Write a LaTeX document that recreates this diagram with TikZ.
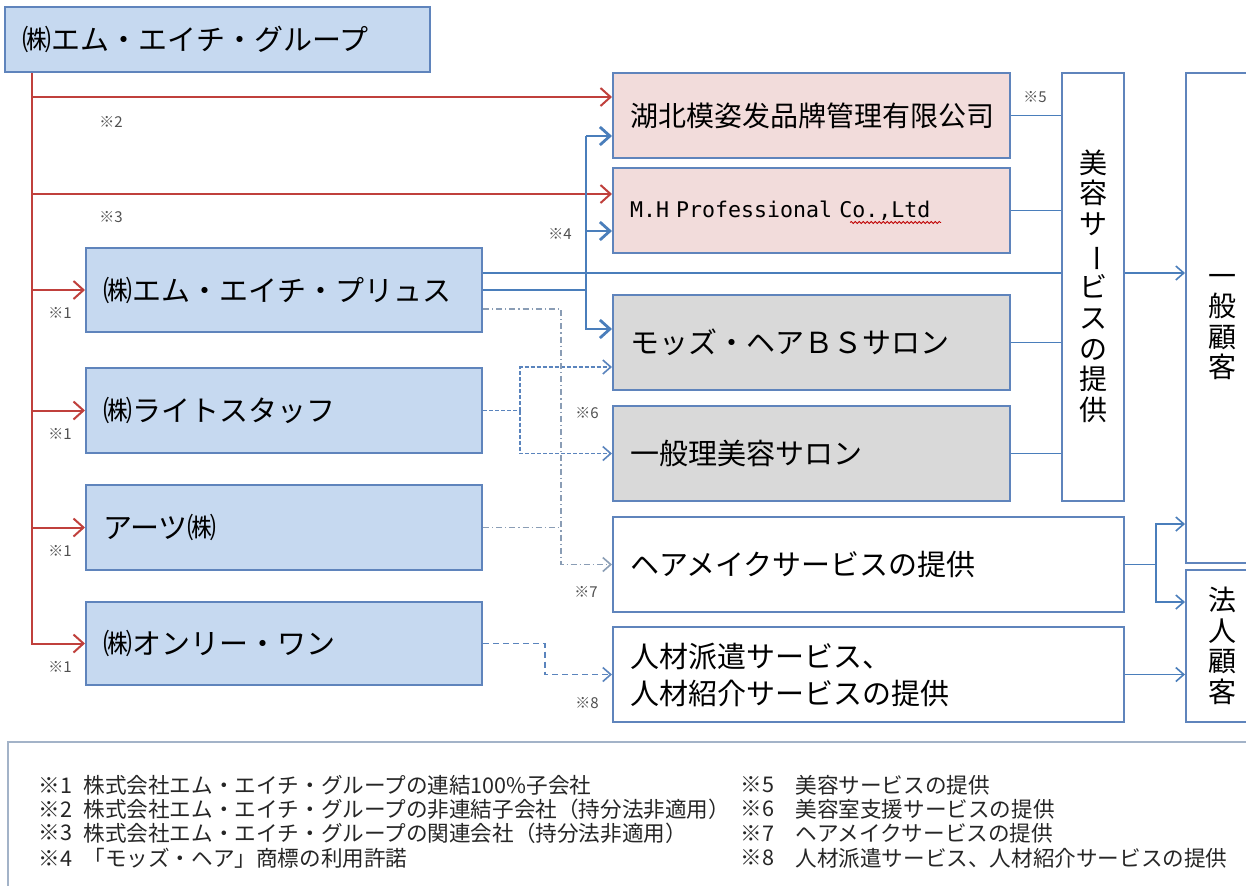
\documentclass[tikz,border=0pt]{standalone}
\usepackage{fontspec}
\setmainfont{Noto Sans CJK JP}
\newfontfamily\cnfont{Noto Sans CJK SC}
\newfontfamily\mhmono{DejaVu Sans Mono}
\usetikzlibrary{arrows.meta,calc,decorations.pathmorphing}
\definecolor{bordc}{HTML}{5F84BC}
\definecolor{bluef}{HTML}{C6D9F0}
\definecolor{pinkf}{HTML}{F2DCDB}
\definecolor{grayf}{HTML}{D9D9D9}
\definecolor{redc}{HTML}{C0403C}
\definecolor{bluel}{HTML}{4A7EBB}
\definecolor{dashc}{HTML}{5A84BD}
\definecolor{ddc}{HTML}{8A9DB5}
\definecolor{notec}{HTML}{505050}
\definecolor{legc}{HTML}{A3B3C8}
\newcommand\fmain{\fontsize{14.5pt}{18.5pt}\selectfont}
\newcommand\fvert{\fontsize{14pt}{15.3pt}\selectfont}
\newcommand\fnote{\fontsize{7.5pt}{9pt}\selectfont}
\newcommand\fleg{\fontsize{10.8pt}{12pt}\selectfont}
\begin{document}
\begin{tikzpicture}[x=0.5pt,y=-0.5pt,
  box/.style={draw=bordc, line width=1pt, inner xsep=8.5pt, inner ysep=0pt, align=left, font=\fmain, text=black},
  bluebox/.style={box, fill=bluef},
  pinkbox/.style={box, fill=pinkf},
  graybox/.style={box, fill=grayf},
  whitebox/.style={box, fill=white},
  vbox/.style={draw=bordc, line width=1pt, fill=white, inner sep=0pt},
  vtext/.style={font=\fvert, align=center, inner sep=0pt},
  note/.style={font=\fnote, text=notec, inner sep=0pt},
  legtxt/.style={font=\fleg, anchor=west, inner sep=0pt, text=black!85},
  redl/.style={draw=redc, line width=1pt},
  redarr/.style={redl, -{Straight Barb[length=5pt,width=9pt]}},
  bthick/.style={draw=bluel, line width=1.4pt},
  barr/.style={bthick, -{Straight Barb[length=5pt,width=9pt]}},
  bline/.style={draw=bluel, line width=0.8pt},
  tarr/.style={bline, -{Straight Barb[length=4pt,width=7pt]}},
  dsh/.style={draw=dashc, line width=0.8pt, dash pattern=on 2pt off 1pt},
  dsharr/.style={dsh, -{Straight Barb[length=4pt,width=7pt]}},
  ldsh/.style={draw=dashc, line width=0.8pt, dash pattern=on 3pt off 2pt},
  ldsharr/.style={ldsh, -{Straight Barb[length=4pt,width=7pt]}},
  dd/.style={draw=ddc, line width=0.8pt, dash pattern=on 3pt off 1.5pt on 0.6pt off 1.5pt},
  ddarr/.style={dd, -{Straight Barb[length=4pt,width=7pt]}}
]
\useasboundingbox (0,0) rectangle (1246,885);
\fill[white] (0,0) rectangle (1246,885);
\clip (0,0) rectangle (1246,885);

% boxes
\node[bluebox, text width=195.5pt, minimum width=212.5pt, minimum height=32.5pt] (grp) at (217.5,39.5) {㈱エム・エイチ・グループ};
\node[bluebox, text width=181pt, minimum width=198pt, minimum height=42pt] (plus) at (284,290) {㈱エム・エイチ・プリュス};
\node[bluebox, text width=181pt, minimum width=198pt, minimum height=42.5pt] (light) at (284,410.5) {㈱ライトスタッフ};
\node[bluebox, text width=181pt, minimum width=198pt, minimum height=42.5pt] (arts) at (284,527.5) {アーツ㈱};
\node[bluebox, text width=181pt, minimum width=198pt, minimum height=41.5pt] (only) at (284,643.5) {㈱オンリー・ワン};

\node[pinkbox, text width=181.5pt, minimum width=198.5pt, minimum height=42.5pt, font=\fontsize{14pt}{17pt}\cnfont] (hubei) at (811.5,115.5) {湖北模姿发品牌管理有限公司};
\node[pinkbox, text width=181.5pt, minimum width=198.5pt, minimum height=42.5pt, font=\fontsize{10.8pt}{13pt}\mhmono] (mh) at (811.5,210.5) {M.H Professional Co.,Ltd};
\node[graybox, text width=181.5pt, minimum width=198.5pt, minimum height=47.5pt] (mods) at (811.5,342.5) {モッズ・ヘアＢＳサロン};
\node[graybox, text width=181.5pt, minimum width=198.5pt, minimum height=47.5pt] (ippan) at (811.5,453.5) {一般理美容サロン};
\node[whitebox, text width=238.5pt, minimum width=255.5pt, minimum height=47.5pt] (hair) at (868.5,564.5) {ヘアメイクサービスの提供};
\node[whitebox, text width=238.5pt, minimum width=255.5pt, minimum height=47.5pt] (jinzai) at (868.5,674.5) {人材派遣サービス、\\人材紹介サービスの提供};

\node[vbox, minimum width=31pt, minimum height=214pt] (biyo) at (1093,287) {};
\node[vtext] (biyotxt) at (1093,286) {美\\容\\サ\\\rotatebox[origin=c]{-90}{ー}\\ビ\\ス\\の\\提\\供};
\node[vbox, minimum width=36pt, minimum height=245pt] (kokyaku) at (1222,318) {};
\node[vtext] (kokyakutxt) at (1222,327) {一\\般\\顧\\客};
\node[vbox, minimum width=36pt, minimum height=76pt] (houjin) at (1222,646) {};
\node[vtext] (houjintxt) at (houjin.center) {法\\人\\顧\\客};

% squiggle under Co.,Ltd
\draw[red!75!black, line width=0.4pt, decorate, decoration={snake, amplitude=0.5pt, segment length=2pt}]
  ($(mh.west)+(238,12)$) -- ($(mh.west)+(329,12)$);

% red connectors
\coordinate (r0) at ($(grp.south west)+(28,0)$);
\coordinate (hubin) at ($(hubei.north west)+(0,25)$);
\coordinate (mhred) at ($(mh.north west)+(0,27)$);
\draw[redarr] (r0) |- (only.west);
\draw[redarr] (r0 |- hubin) -- (hubin);
\draw[redarr] (r0 |- mhred) -- (mhred);
\draw[redarr] (r0 |- plus.west) -- (plus.west);
\draw[redarr] (r0 |- light.west) -- (light.west);
\draw[redarr] (r0 |- arts.west) -- (arts.west);

% blue license connectors
\coordinate (b4) at ($(hubei.north west)+(-26,64)$);
\coordinate (mhin) at ($(mh.north west)+(0,64)$);
\coordinate (modin) at ($(mods.north west)+(0,35)$);
\draw[bthick] (plus.east) -- (plus.east -| b4);
\draw[barr] (b4) -- (b4 -| hubei.west);
\draw[barr] (mhin -| b4) -- (mhin);
\draw[barr] (b4) |- (modin);

% plus to beauty service and customers
\coordinate (pu) at ($(plus.north east)+(0,26)$);
\draw[bline, line width=1pt] (pu) -- (pu -| biyo.west);
\draw[tarr] (pu -| biyo.east) -- (pu -| kokyaku.west);
\draw[bline] (hubei.east) -- (hubei.east -| biyo.west);
\draw[bline] (mh.east) -- (mh.east -| biyo.west);
\draw[bline] (mods.east) -- (mods.east -| biyo.west);
\draw[bline] (ippan.east) -- (ippan.east -| biyo.west);

% light staff dashed
\coordinate (lj) at ($(light.east)+(37,0)$);
\coordinate (modin2) at ($(mods.north west)+(0,73)$);
\draw[dsh] (light.east) -- (lj);
\draw[dsharr] (lj) |- (modin2);
\draw[dsharr] (lj) |- (ippan.west);

% dash-dot from plus and arts
\coordinate (pd) at ($(plus.north east)+(0,62)$);
\coordinate (dj) at ($(pd)+(78,0)$);
\draw[ddarr] (pd) -- (dj) |- (hair.west);
\draw[dd] (arts.east) -- (arts.east -| dj);

% only one dashed
\coordinate (oj) at ($(only.east)+(62,0)$);
\draw[ldsharr] (only.east) -- (oj) |- (jinzai.west);

% hair make to customers
\coordinate (hb) at ($(hair.east)+(31,0)$);
\coordinate (k1) at ($(kokyaku.south west)+(0,-40)$);
\coordinate (h1) at ($(houjin.north west)+(0,33)$);
\draw[bline] (hair.east) -- (hb);
\draw[tarr] (hb) |- (k1);
\draw[tarr] (hb) |- (h1);
\draw[tarr] (jinzai.east) -- (jinzai.east -| houjin.west);

% notes
\node[note] (n2) at (111,122) {※2};
\node[note] (n3) at (111,217) {※3};
\node[note] (n1a) at (60,313) {※1};
\node[note] (n1b) at (60,434) {※1};
\node[note] (n1c) at (60,551) {※1};
\node[note] (n1d) at (60,667) {※1};
\node[note] (n4) at (560,234) {※4};
\node[note] (n5) at (1035,97) {※5};
\node[note] (n6) at (587,413) {※6};
\node[note] (n7) at (586,592) {※7};
\node[note] (n8) at (587,703) {※8};

% legend
\node[draw=legc, line width=1pt, minimum width=627pt, minimum height=81.5pt, inner sep=0pt] (legend) at (635,823.5) {};
\node[legtxt] (l1a) at (38,785) {※1};
\node[legtxt] (l1b) at (83,785) {株式会社エム・エイチ・グループの連結100\%子会社};
\node[legtxt] (l2a) at (38,809) {※2};
\node[legtxt] (l2b) at (83,809) {株式会社エム・エイチ・グループの非連結子会社（持分法非適用）};
\node[legtxt] (l3a) at (38,833) {※3};
\node[legtxt] (l3b) at (83,833) {株式会社エム・エイチ・グループの関連会社（持分法非適用）};
\node[legtxt] (l4a) at (38,858) {※4};
\node[legtxt] (l4b) at (83,858) {「モッズ・ヘア」商標の利用許諾};
\node[legtxt] (l5a) at (740,785) {※5};
\node[legtxt] (l5b) at (795,785) {美容サービスの提供};
\node[legtxt] (l6a) at (740,809) {※6};
\node[legtxt] (l6b) at (795,809) {美容室支援サービスの提供};
\node[legtxt] (l7a) at (740,833) {※7};
\node[legtxt] (l7b) at (795,833) {ヘアメイクサービスの提供};
\node[legtxt] (l8a) at (740,858) {※8};
\node[legtxt] (l8b) at (795,858) {人材派遣サービス、人材紹介サービスの提供};
\end{tikzpicture}
\end{document}
